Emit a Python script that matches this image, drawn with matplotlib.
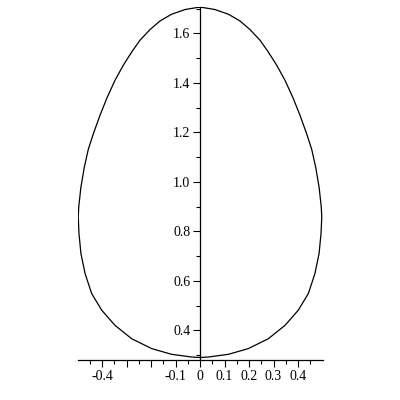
###############################################################################
# egg curve, Maple-style axes (axes cross at x = 0, x axis at the bottom)
###############################################################################

import matplotlib
matplotlib.use('Agg')
import matplotlib.pyplot as plt
import numpy as np

# --- Data --------------------------------------------------------------------

# height along the egg and the half width of the egg at that height
egg_y = [1.706, 1.696, 1.677, 1.650, 1.615, 1.572, 1.524, 1.471, 1.410,
         1.336, 1.269, 1.195, 1.131, 1.060, 0.979, 0.898, 0.858, 0.791,
         0.710, 0.629, 0.548, 0.481, 0.420, 0.366, 0.326, 0.303, 0.292,
         0.290]
egg_halfwidth = [0.000, 0.061, 0.116, 0.163, 0.204, 0.245, 0.279, 0.313, 0.347,
                 0.381, 0.408, 0.435, 0.456, 0.472, 0.486, 0.495, 0.497, 0.494,
                 0.486, 0.469, 0.442, 0.401, 0.347, 0.279, 0.197, 0.116, 0.034,
                 0.000]

x_ticks = [-0.4, -0.3, -0.2, -0.1, 0.0, 0.1, 0.2, 0.3, 0.4]
x_ticklabels = ['-0.4', '', '', '-0.1', '0', '0.1', '0.2', '0.3', '0.4']
y_ticks = [0.4, 0.6, 0.8, 1.0, 1.2, 1.4, 1.6]
y_ticklabels = ['0.4', '0.6', '0.8', '1.0', '1.2', '1.4', '1.6']

# --- Plot ------------------------------------------------------------------

plt.rcParams['font.family'] = ['Liberation Serif', 'DejaVu Serif']

fig = plt.figure(figsize=(4, 4), dpi=100)
ax = fig.add_axes([77.5 / 400, 40 / 400, 245 / 400, 352.7 / 400])

# right half going down, then left half going back up -> closed outline
xs = list(egg_halfwidth) + [-w for w in reversed(egg_halfwidth)]
ys = list(egg_y) + list(reversed(egg_y))
ax.plot(xs, ys, color='black', linewidth=0.9, solid_joinstyle='round')

ax.set_xlim(-0.5, 0.5)
ax.set_ylim(0.28, 1.705)

# axes: vertical one through x = 0, horizontal one at the bottom
ax.spines['top'].set_visible(False)
ax.spines['right'].set_visible(False)
ax.spines['left'].set_position(('data', 0))
for side in ('left', 'bottom'):
    ax.spines[side].set_linewidth(0.9)

ax.set_xticks(x_ticks)
ax.set_xticklabels(x_ticklabels)
ax.set_yticks(y_ticks)
ax.set_yticklabels(y_ticklabels)
ax.set_xticks(np.arange(-0.45, 0.5, 0.1), minor=True)
ax.set_yticks(np.arange(0.3, 1.71, 0.2), minor=True)

ax.tick_params(which='major', direction='out', length=5, width=0.8,
               labelsize=10, pad=2, colors='black')
ax.tick_params(which='minor', direction='out', length=3, width=0.8)

ax.patch.set_alpha(0)

plt.savefig('out.png', dpi=100)
